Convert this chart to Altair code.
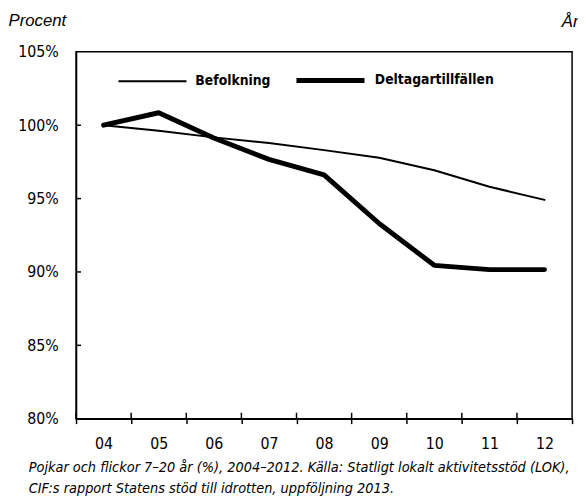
import altair as alt
import pandas as pd

years = ["04", "05", "06", "07", "08", "09", "10", "11", "12"]
befolkning = [100.0, 99.62, 99.17, 98.79, 98.30, 97.78, 96.93, 95.81, 94.91]
deltagar = [100.0, 100.85, 99.13, 97.67, 96.61, 93.30, 90.45, 90.16, 90.16]
series_names = ["Befolkning", "Deltagartillfällen"]
y_ticks = [80, 85, 90, 95, 100, 105]
inner_y_ticks = [85, 90, 95, 100]
caption = [
    "Pojkar och flickor 7–20 år (%), 2004–2012. Källa: Statligt lokalt aktivitetsstöd (LOK),",
    "CIF:s rapport Statens stöd till idrotten, uppföljning 2013.",
]

rows = []
for name, vals in zip(series_names, [befolkning, deltagar]):
    for yr, v in zip(years, vals):
        rows.append({"yr": yr, "value": v, "series": name})
df = pd.DataFrame(rows)
df_years = pd.DataFrame({"yr": years})
df_yt = pd.DataFrame({"v": inner_y_ticks})

FONT = "DejaVu Sans Condensed, DejaVu Sans, sans-serif"
IFONT = "Liberation Sans, Arial, sans-serif"

x_enc = alt.X(
    "yr:O",
    sort=years,
    scale=alt.Scale(type="band", paddingInner=0, paddingOuter=0, domain=years),
    axis=alt.Axis(
        title="År", titleAngle=0, titleX=492, titleY=-398, titleAlign="left",
        titleBaseline="alphabetic", titleFont=IFONT, titleFontStyle="italic",
        titleFontWeight="normal", titleFontSize=17, titleColor="black",
        tickBand="extent", tickSize=5, labelPadding=12, labelAngle=0,
    ),
)
y_enc = alt.Y(
    "value:Q",
    scale=alt.Scale(domain=[80, 105], nice=False, zero=False),
    axis=alt.Axis(
        values=y_ticks, labelExpr="datum.value + '%'", tickSize=0, labelPadding=18,
        title="Procent", titleAngle=0, titleX=-69, titleY=-27, titleAlign="left",
        titleBaseline="alphabetic", titleFont=IFONT, titleFontStyle="italic",
        titleFontWeight="normal", titleFontSize=17, titleColor="black",
    ),
)

lines = alt.Chart(df).mark_line(color="black", strokeJoin="round", strokeCap="round").encode(
    x=x_enc,
    y=y_enc,
    detail="series:N",
    strokeWidth=alt.StrokeWidth(
        "series:N",
        scale=alt.Scale(domain=series_names, range=[2, 5]),
        legend=alt.Legend(
            orient="none", legendX=42, legendY=-8, direction="horizontal", title=None,
            symbolType="stroke", symbolSize=4761, symbolStrokeColor="black",
            labelFont=FONT, labelFontWeight="bold", labelFontSize=14, labelColor="black",
            labelOffset=8, columnPadding=15, padding=0, labelLimit=300,
        ),
    ),
)

xt = alt.Chart(df_years).mark_rule(color="black", strokeWidth=1.5).encode(
    x=alt.X("yr:O", sort=years, bandPosition=0),
    y=alt.value(366),
    y2=alt.value(372),
)

yt = alt.Chart(df_yt).mark_rule(color="black", strokeWidth=1.5).encode(
    y=alt.Y("v:Q"),
    x=alt.value(0),
    x2=alt.value(5),
)

chart = alt.layer(lines, xt, yt).properties(
    width=503,
    height=372,
    autosize=alt.AutoSizeParams(type="none"),
    padding={"left": 69, "top": 41, "right": 6, "bottom": 78},
    title=alt.TitleParams(
        caption, orient="bottom", anchor="start", frame="group", dx=-48,
        fontStyle="italic", fontWeight="normal", font=FONT, fontSize=14.6,
        lineHeight=21, color="black", offset=9,
    ),
).configure_view(stroke="black", strokeWidth=1.5).configure_axis(
    domainColor="black", domainWidth=1.5, tickColor="black", tickWidth=1.5,
    labelColor="black", labelFont=FONT, labelFontSize=16, grid=False,
)

chart.save("out.html", embed_options={"renderer": "svg", "actions": False})
